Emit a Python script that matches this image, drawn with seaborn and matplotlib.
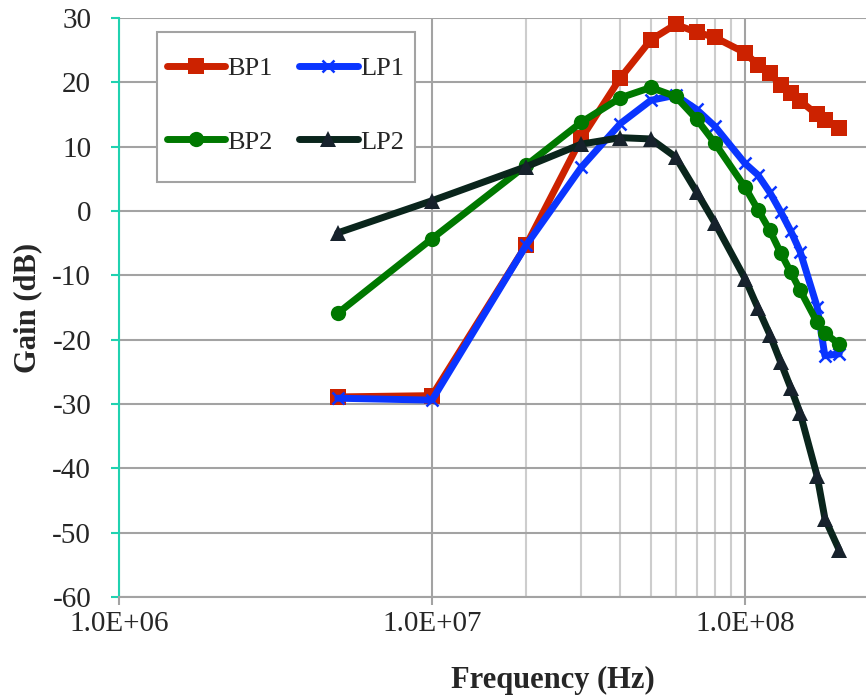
import matplotlib
matplotlib.use("Agg")
import matplotlib.pyplot as plt
import matplotlib.ticker as mticker
from matplotlib.patches import Rectangle
import numpy as np
import pandas as pd
import seaborn as sns

#%% Data
freq = [5e6, 1e7, 2e7, 3e7, 4e7, 5e7, 6e7, 7e7, 8e7,
        1e8, 1.1e8, 1.2e8, 1.3e8, 1.4e8, 1.5e8, 1.7e8, 1.8e8, 2e8]
bp1 = [-28.9, -28.7, -5.3, 11.3, 20.7, 26.6, 29.0, 27.8, 27.0,
       24.6, 22.7, 21.4, 19.6, 18.4, 17.1, 15.0, 14.2, 12.9]
lp1 = [-29.1, -29.4, -5.3, 6.8, 13.6, 17.2, 18.0, 15.8, 13.2,
       7.4, 5.6, 2.9, -0.1, -3.1, -6.3, -14.9, -22.5, -22.2]
bp2 = [-15.9, -4.3, 7.1, 13.8, 17.6, 19.2, 17.8, 14.3, 10.6,
       3.7, 0.2, -3.0, -6.5, -9.5, -12.3, -17.3, -19.0, -20.7]
lp2 = [-3.4, 1.6, 6.9, 10.4, 11.4, 11.2, 8.4, 3.0, -1.8,
       -10.5, -15.1, -19.2, -23.5, -27.5, -31.4, -41.2, -47.8, -52.7]

series_names = ['BP1', 'LP1', 'BP2', 'LP2']
xticks = [1e6, 1e7, 1e8]
xtick_labels = ['1.0E+06', '1.0E+07', '1.0E+08']
minor_grid = [2e7, 3e7, 4e7, 5e7, 6e7, 7e7, 8e7, 9e7]

data = pd.DataFrame({'freq': freq, 'BP1': bp1, 'LP1': lp1, 'BP2': bp2, 'LP2': lp2})

#%% Styling
sns.set_style("white")
plt.rcParams['font.family'] = ['Liberation Serif', 'DejaVu Serif']
plt.rcParams['axes.unicode_minus'] = False

styles = {
    'BP1': dict(color='#cc2200', marker='s', markersize=11, mec='#cc2200', mew=0, zorder=3),
    'LP1': dict(color='#0a35ff', marker='x', markersize=8, mec='#0a35ff', mew=1.8, zorder=4),
    'BP2': dict(color='#007800', marker='o', markersize=11, mec='#007800', mew=0, zorder=5),
    'LP2': dict(color='#0a251c', marker='^', markersize=11, mec='#17222c', mfc='#17222c', mew=0, zorder=6),
}

fig = plt.figure(figsize=(8.66, 7.0), dpi=100)
ax = fig.add_axes([119/866, 1 - 597/700, (866 - 119)/866, (597 - 18)/700])

handles = {}
for name in series_names:
    st = styles[name]
    sns.lineplot(data=data, x='freq', y=name, ax=ax, label=name,
                 color=st['color'], linewidth=5, marker=st['marker'],
                 markersize=st['markersize'], markeredgecolor=st['mec'],
                 markerfacecolor=st.get('mfc', st['color']),
                 markeredgewidth=st['mew'], zorder=st['zorder'],
                 solid_capstyle='round', solid_joinstyle='round', clip_on=False)
    handles[name] = ax.get_lines()[-1]

ax.set_xscale('log')
ax.set_xlim(1e6, 10 ** (6 + 747/313))
ax.set_ylim(-60, 30)
ax.set_yticks(np.arange(-60, 31, 10))
ax.set_xticks(xticks)
ax.set_xticklabels(xtick_labels)
ax.xaxis.set_minor_locator(mticker.FixedLocator(minor_grid))
ax.xaxis.set_minor_formatter(mticker.NullFormatter())

# grid
ax.set_axisbelow(True)
ax.yaxis.grid(True, color='#a3a3a3', linewidth=1.5)
ax.xaxis.grid(True, which='major', color='#a3a3a3', linewidth=1.5)
ax.xaxis.grid(True, which='minor', color='#cdcdcd', linewidth=1.5)

# spines
for side in ['top', 'right']:
    ax.spines[side].set_visible(False)
ax.spines['left'].set_color('#20d2b0')
ax.spines['left'].set_linewidth(1.5)
ax.spines['bottom'].set_color('#a3a3a3')
ax.spines['bottom'].set_linewidth(1.5)

ax.tick_params(axis='y', which='major', direction='out', length=6, width=1.5,
               color='#20d2b0', labelsize=21, pad=14, left=True)
ax.tick_params(axis='x', which='major', direction='out', length=6, width=1.5,
               color='#a3a3a3', labelsize=21, pad=4, bottom=True)
ax.tick_params(axis='x', which='minor', length=0)

ax.set_xlabel('Frequency (Hz)', fontsize=22, fontweight='bold')
ax.set_ylabel('Gain (dB)', fontsize=22, fontweight='bold')
ax.xaxis.set_label_coords((553 - 119)/747, -0.119)
ax.yaxis.set_label_coords((42 - 119)/747, 0.5)

# legend: frame drawn separately so the padding matches the original box
frame = Rectangle((157/866, 1 - 182/700), 258/866, 150/700,
                  transform=fig.transFigure, facecolor='white',
                  edgecolor='#a3a3a3', linewidth=1.5, zorder=9)
fig.patches.append(frame)

order = ['BP1', 'BP2', 'LP1', 'LP2']  # column-wise fill -> rows BP1/LP1, BP2/LP2
leg = fig.legend([handles[n] for n in order], order,
                 loc='upper left', bbox_to_anchor=(167/866, 1 - 57/700),
                 ncol=2, fontsize=19, frameon=False, handlelength=2.2,
                 handletextpad=0.1, columnspacing=1.0, labelspacing=1.88,
                 borderpad=0, borderaxespad=0)
leg.set_zorder(10)
if ax.get_legend() is not None:
    ax.get_legend().remove()

fig.savefig('out.png', dpi=100)
